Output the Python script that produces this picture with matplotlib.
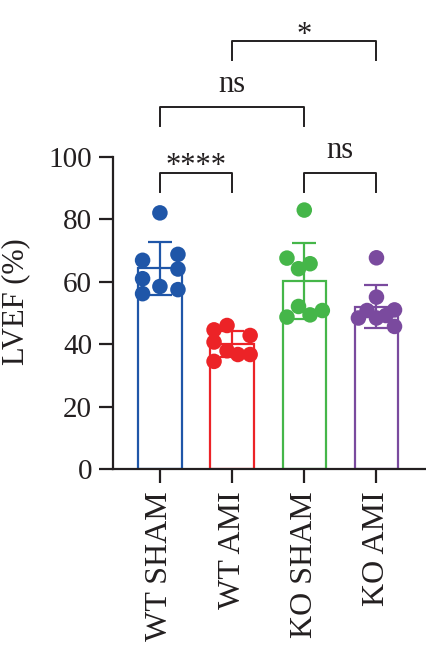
import numpy as np
import matplotlib
matplotlib.use("Agg")
import matplotlib.pyplot as plt

plt.rcParams['font.family'] = ['Liberation Serif', 'DejaVu Serif']

groups = ["WT SHAM", "WT AMI", "KO SHAM", "KO AMI"]
colors = ["#1f56a8", "#ec2327", "#45b649", "#7a4a9e"]

wt_sham = [82.1, 66.9, 68.8, 64.1, 61.0, 58.5, 56.2, 57.5]
wt_ami = [44.6, 46.0, 42.8, 40.7, 37.9, 36.7, 36.7, 34.5]
ko_sham = [83.0, 67.6, 65.8, 64.2, 52.1, 50.8, 49.4, 48.7]
ko_ami = [67.7, 55.1, 50.8, 51.0, 48.4, 48.4, 49.2, 45.7]
values = [wt_sham, wt_ami, ko_sham, ko_ami]

# significance: (left group, right group, label)
comparisons = [(0, 1, "****"), (2, 3, "ns"), (0, 2, "ns"), (1, 3, "*")]

# horizontal spread of the dots inside each bar
jitter = [
    [0, -0.24, 0.25, 0.25, -0.24, 0, -0.24, 0.25],
    [-0.25, -0.07, 0.25, -0.25, -0.07, 0.08, 0.25, -0.25],
    [0, -0.24, 0.08, -0.08, -0.08, 0.25, 0.08, -0.24],
    [0, 0, -0.13, 0.25, -0.25, 0, 0.13, 0.25],
]

fig = plt.figure(figsize=(4.27, 6.47), dpi=100)
ax = fig.add_axes([0.2646, 0.2751, 0.7354, 0.4822])

x = np.arange(len(groups))
means = [np.mean(v) for v in values]
sds = [np.std(v, ddof=1) for v in values]

ax.bar(x, means, width=0.6, color="white", edgecolor=colors, linewidth=1.6, zorder=1)
for i in range(len(groups)):
    ax.errorbar(x[i], means[i], yerr=sds[i], color=colors[i], capsize=8.5,
                elinewidth=1.6, capthick=1.6, zorder=2)
    ax.scatter(x[i] + np.array(jitter[i]), values[i], s=125, color=colors[i],
               edgecolors="none", zorder=3, clip_on=False)

# brackets
levels = {(0, 1): 95.0, (2, 3): 95.0, (0, 2): 116.1, (1, 3): 137.2}
drop = 6.1
for a, b, lab in comparisons:
    y = levels[(a, b)]
    ax.plot([x[a], x[a], x[b], x[b]], [y - drop, y, y, y - drop], color="#231f20",
            lw=1.4, clip_on=False)
    if lab == "ns":
        ax.text((x[a] + x[b]) / 2, y + 4.6, lab, ha="center", va="baseline",
                fontsize=22, color="#231f20")
    else:
        ax.text((x[a] + x[b]) / 2, y - 0.6, lab, ha="center", va="baseline",
                fontsize=22, color="#231f20")

ax.set_xlim(-0.65, 3.70)
ax.set_ylim(0, 100)
ax.set_yticks([0, 20, 40, 60, 80, 100])
ax.set_xticks(x)
ax.set_xticklabels(groups, rotation=90)
ax.set_ylabel("LVEF (%)", fontsize=22, color="#231f20")
ax.yaxis.set_label_coords(-0.262, 0.535)

for s in ["top", "right"]:
    ax.spines[s].set_visible(False)
for s in ["left", "bottom"]:
    ax.spines[s].set_linewidth(1.6)
    ax.spines[s].set_color("#231f20")
ax.tick_params(axis="both", length=10, width=1.6, color="#231f20", labelsize=21,
               labelcolor="#231f20")
ax.tick_params(axis="y", pad=5)
ax.tick_params(axis="x", pad=6, labelsize=23)

fig.savefig("out.png", dpi=100)
